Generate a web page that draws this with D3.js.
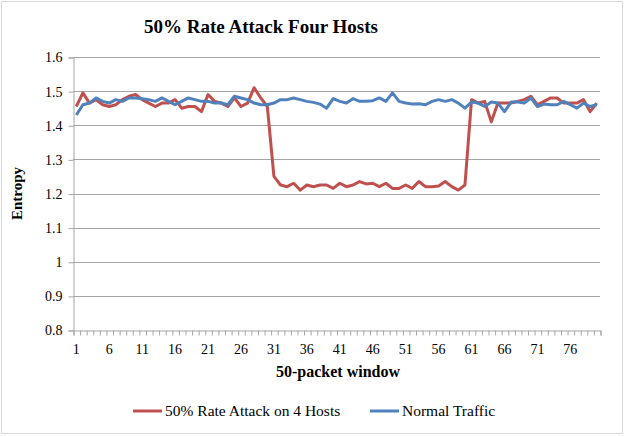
<!DOCTYPE html>
<html>
<head>
<meta charset="utf-8">
<script src="https://cdn.jsdelivr.net/npm/d3@7"></script>
<style>
  body { margin: 0; background: #fff; }
</style>
</head>
<body>
<div id="chart"></div>
<script>
const windows = d3.range(1, 81);
const xTickLabels = [1, 6, 11, 16, 21, 26, 31, 36, 41, 46, 51, 56, 61, 66, 71, 76];
const yTicks = [0.8, 0.9, 1.0, 1.1, 1.2, 1.3, 1.4, 1.5, 1.6];

const attack = [
  1.455, 1.495, 1.465, 1.475, 1.46, 1.455, 1.46, 1.475, 1.485, 1.49,
  1.475, 1.465, 1.455, 1.465, 1.465, 1.475, 1.45, 1.455, 1.455, 1.44,
  1.49, 1.47, 1.465, 1.455, 1.48, 1.455, 1.465, 1.51, 1.48, 1.455,
  1.25, 1.225, 1.22, 1.23, 1.21, 1.225, 1.22, 1.225, 1.225, 1.215,
  1.23, 1.22, 1.225, 1.235, 1.228, 1.23, 1.22, 1.23, 1.215, 1.215,
  1.225, 1.215, 1.235, 1.22, 1.22, 1.222, 1.235, 1.22, 1.21, 1.225,
  1.475, 1.465, 1.47, 1.41, 1.465, 1.465, 1.465, 1.47, 1.475, 1.485,
  1.46, 1.47, 1.48, 1.48, 1.465, 1.465, 1.465, 1.475, 1.44, 1.465
];

const normal = [
  1.43, 1.46, 1.465, 1.48, 1.47, 1.465, 1.475, 1.47, 1.48, 1.48,
  1.478, 1.475, 1.47, 1.48, 1.47, 1.46, 1.47, 1.48, 1.475, 1.47,
  1.47, 1.465, 1.465, 1.46, 1.485, 1.48, 1.475, 1.465, 1.46, 1.46,
  1.465, 1.475, 1.475, 1.48, 1.475, 1.47, 1.467, 1.462, 1.45, 1.478,
  1.47, 1.465, 1.478, 1.47, 1.47, 1.472, 1.48, 1.47, 1.495, 1.47,
  1.465, 1.462, 1.463, 1.46, 1.47, 1.475, 1.47, 1.475, 1.465, 1.45,
  1.468, 1.465, 1.455, 1.468, 1.465, 1.44, 1.468, 1.468, 1.465, 1.48,
  1.455, 1.462, 1.46, 1.46, 1.47, 1.46, 1.45, 1.465, 1.455, 1.46
];

const series = [
  { name: "50% Rate Attack on 4 Hosts", color: "#c0504d", values: attack },
  { name: "Normal Traffic", color: "#4f81bd", values: normal }
];

const FONT = "'Liberation Serif', 'DejaVu Serif', serif";
const W = 625, H = 436;
const plot = { left: 73, right: 600, top: 57, bottom: 330 };

const svg = d3.select("#chart").append("svg")
  .attr("width", W).attr("height", H)
  .attr("font-family", FONT);

svg.append("rect")
  .attr("x", 1.5).attr("y", 1.5)
  .attr("width", W - 4).attr("height", H - 4)
  .attr("fill", "#fff").attr("stroke", "#d9d9d9");

svg.append("text")
  .attr("x", 261).attr("y", 33)
  .attr("text-anchor", "middle")
  .attr("font-size", 19).attr("font-weight", "bold")
  .text("50% Rate Attack Four Hosts");

const x = d3.scaleBand().domain(windows).range([plot.left, plot.right]).padding(0);
const xEdges = d3.scaleLinear().domain([0, windows.length]).range([plot.left, plot.right]);
const y = d3.scaleLinear().domain([0.8, 1.6]).range([plot.bottom, plot.top]);

// gridlines
svg.append("g")
  .selectAll("line")
  .data(yTicks.slice(1))
  .join("line")
  .attr("x1", plot.left).attr("x2", plot.right)
  .attr("y1", d => Math.round(y(d)) + 0.5).attr("y2", d => Math.round(y(d)) + 0.5)
  .attr("stroke", "#a6a6a6").attr("stroke-width", 1);

// y axis
svg.append("g")
  .attr("transform", `translate(${plot.left + 0.5},0.5)`)
  .call(d3.axisLeft(y).tickValues(yTicks).tickSize(5).tickPadding(6)
    .tickFormat(d => d3.format("")(+d.toFixed(1))))
  .attr("font-family", FONT).attr("font-size", 14)
  .call(g => g.select(".domain").attr("stroke", "#a6a6a6"))
  .call(g => g.selectAll(".tick line").attr("stroke", "#a6a6a6"))
  .call(g => g.selectAll(".tick text").attr("fill", "#000"));

// x axis: boundary tick marks
svg.append("g")
  .attr("transform", `translate(0.5,${plot.bottom + 0.5})`)
  .call(d3.axisBottom(xEdges).tickValues(d3.range(0, windows.length + 1)).tickSize(5).tickFormat(""))
  .call(g => g.select(".domain").attr("stroke", "#a6a6a6"))
  .call(g => g.selectAll(".tick line").attr("stroke", "#a6a6a6"));

// x axis: labels
svg.append("g")
  .attr("transform", `translate(0,${plot.bottom})`)
  .call(d3.axisBottom(x).tickValues(xTickLabels).tickSize(0).tickPadding(14))
  .attr("font-family", FONT).attr("font-size", 14)
  .call(g => g.select(".domain").remove())
  .call(g => g.selectAll(".tick text").attr("fill", "#000"));

svg.append("text")
  .attr("x", 338).attr("y", 377)
  .attr("text-anchor", "middle")
  .attr("font-size", 16).attr("font-weight", "bold")
  .text("50-packet window");

svg.append("text")
  .attr("transform", `translate(22,${(plot.top + plot.bottom) / 2}) rotate(-90)`)
  .attr("text-anchor", "middle")
  .attr("font-size", 15).attr("font-weight", "bold")
  .text("Entropy");

const line = d3.line()
  .x((d, i) => x(windows[i]) + x.bandwidth() / 2)
  .y(d => y(d));

svg.append("g")
  .selectAll("path")
  .data(series)
  .join("path")
  .attr("fill", "none")
  .attr("stroke", d => d.color)
  .attr("stroke-width", 3)
  .attr("stroke-linejoin", "round")
  .attr("d", d => line(d.values));

// legend
const legendPos = [133, 370];
const legend = svg.append("g").attr("font-size", 15.5);
series.forEach((s, i) => {
  const g = legend.append("g").attr("transform", `translate(${legendPos[i]},411)`);
  g.append("line")
    .attr("x1", 0).attr("x2", 29).attr("y1", 0).attr("y2", 0)
    .attr("stroke", s.color).attr("stroke-width", 3);
  g.append("text")
    .attr("x", 32).attr("y", 5)
    .text(s.name);
});
</script>
</body>
</html>
